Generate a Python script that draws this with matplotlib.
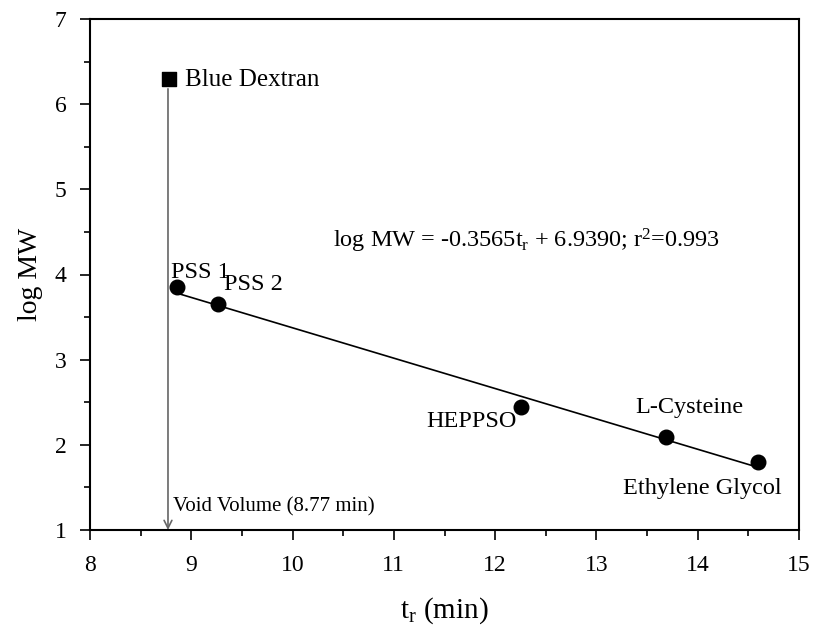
import matplotlib
matplotlib.use("Agg")
import matplotlib.pyplot as plt
from matplotlib.ticker import MultipleLocator
import numpy as np

plt.rcParams['font.family'] = ['Liberation Serif', 'DejaVu Serif']
plt.rcParams['mathtext.fontset'] = 'custom'
plt.rcParams['mathtext.rm'] = 'Liberation Serif'
plt.rcParams['mathtext.it'] = 'Liberation Serif'

names = ["PSS 1", "PSS 2", "HEPPSO", "L-Cysteine", "Ethylene Glycol"]
tr = [8.86, 9.26, 12.26, 13.69, 14.60]
logmw = [3.85, 3.65, 2.44, 2.09, 1.80]
dextran_tr = 8.78
dextran_logmw = 6.29
void_tr = 8.77
slope = -0.3565
intercept = 6.9390

fig = plt.figure(figsize=(8.15, 6.30), dpi=100)
ax = fig.add_axes([90/815, 1-530/630, (799-90)/815, (530-19)/630])

xfit = np.array([tr[0], tr[-1]])
ax.plot(xfit, slope*xfit + intercept, color='black', lw=1.2, zorder=2)
ax.scatter(tr, logmw, s=110, color='black', zorder=3)
ax.scatter([dextran_tr], [dextran_logmw], marker='s', s=100, color='black', zorder=3)

ax.annotate('', xy=(void_tr, 1.0), xytext=(void_tr, 6.18),
            arrowprops=dict(arrowstyle='->', color='#666666', lw=1.2,
                            shrinkA=0, shrinkB=0, mutation_scale=14))

fs = 17.5
ax.text(8.94, 6.28, "Blue Dextran", fontsize=18, va='center', ha='left')
ax.text(8.80, 4.02, "PSS 1", fontsize=fs, va='center', ha='left')
ax.text(9.32, 3.88, "PSS 2", fontsize=fs, va='center', ha='left')
ax.text(12.215, 2.27, "HEPPSO", fontsize=fs, va='center', ha='right')
ax.text(13.38, 2.44, "L-Cysteine", fontsize=fs, va='center', ha='left')
ax.text(14.83, 1.49, "Ethylene Glycol", fontsize=fs, va='center', ha='right')
ax.text(8.82, 1.27, "Void Volume (8.77 min)", fontsize=15, va='center', ha='left')
ax.text(10.40, 4.40, r"log MW = -0.3565t$_\mathrm{r}$ + 6.9390; r$^\mathrm{2}$=0.993",
        fontsize=fs, va='center', ha='left')

ax.set_xlim(8, 15)
ax.set_ylim(1, 7)
ax.xaxis.set_major_locator(MultipleLocator(1))
ax.xaxis.set_minor_locator(MultipleLocator(0.5))
ax.yaxis.set_major_locator(MultipleLocator(1))
ax.yaxis.set_minor_locator(MultipleLocator(0.5))
ax.tick_params(which='major', direction='out', length=7, width=1.2, labelsize=17)
ax.tick_params(axis='x', which='major', pad=11)
ax.tick_params(axis='y', which='major', pad=10)
ax.tick_params(which='minor', direction='out', length=4, width=1.2)
for s in ax.spines.values():
    s.set_linewidth(1.5)

ax.set_xlabel(r"t$_\mathrm{r}$ (min)", fontsize=21, labelpad=14)
ax.set_ylabel("log MW", fontsize=20, labelpad=8)

fig.savefig("out.png", dpi=100)
